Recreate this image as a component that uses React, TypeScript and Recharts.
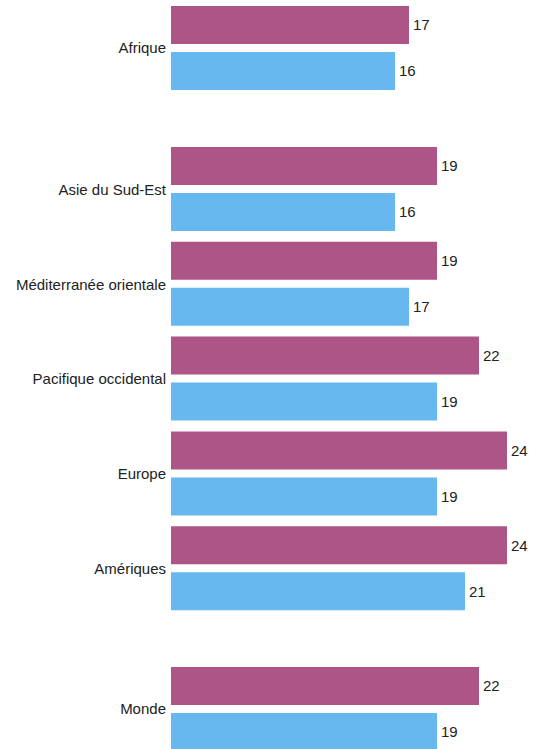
import { BarChart, Bar, XAxis, YAxis, LabelList } from "recharts";

// three groups: Afrique / regions / Monde
const topRegions = ["Afrique"];
const midRegions = [
  "Asie du Sud-Est",
  "Méditerranée orientale",
  "Pacifique occidental",
  "Europe",
  "Amériques",
];
const bottomRegions = ["Monde"];

const topPurple = [17];
const topBlue = [16];
const midPurple = [19, 19, 22, 24, 24];
const midBlue = [16, 17, 19, 19, 21];
const bottomPurple = [22];
const bottomBlue = [19];

const xMax = 24;

const PURPLE = "#AD5587";
const BLUE = "#66B8EE";
const FONT = "'Liberation Sans', Arial, sans-serif";

const toRows = (names: string[], a: number[], b: number[]) =>
  names.map((name, i) => ({ name, a: a[i], b: b[i] }));

type GroupProps = {
  rows: { name: string; a: number; b: number }[];
  height: number;
  top: number;
};

function Group({ rows, height, top }: GroupProps) {
  return (
    <BarChart
      layout="vertical"
      width={536}
      height={height}
      data={rows}
      margin={{ top, right: 29, bottom: 0, left: 0 }}
      barSize={38}
      barGap={8}
    >
      <XAxis type="number" domain={[0, xMax]} hide />
      <YAxis
        type="category"
        dataKey="name"
        width={171}
        axisLine={false}
        tickLine={false}
        tickMargin={-1}
        tick={{ fontSize: 15, fill: "#222", fontFamily: FONT }}
      />
      <Bar dataKey="a" fill={PURPLE} isAnimationActive={false}>
        <LabelList
          dataKey="a"
          position="right"
          offset={4}
          style={{ fontSize: 15, fill: "#222", fontFamily: FONT }}
        />
      </Bar>
      <Bar dataKey="b" fill={BLUE} isAnimationActive={false}>
        <LabelList
          dataKey="b"
          position="right"
          offset={4}
          style={{ fontSize: 15, fill: "#222", fontFamily: FONT }}
        />
      </Bar>
    </BarChart>
  );
}

export default function App() {
  return (
    <div style={{ position: "absolute", left: 0, top: 0, width: 536, height: 749, overflow: "hidden", background: "#fff" }}>
      <Group rows={toRows(topRegions, topPurple, topBlue)} height={95} top={0} />
      <Group rows={toRows(midRegions, midPurple, midBlue)} height={521} top={47} />
      <Group rows={toRows(bottomRegions, bottomPurple, bottomBlue)} height={140} top={45} />
    </div>
  );
}
